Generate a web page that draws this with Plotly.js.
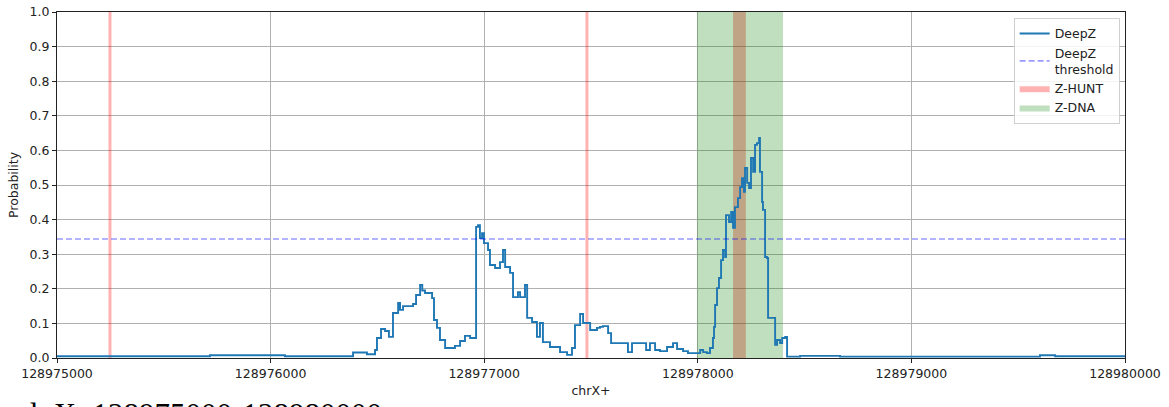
<!DOCTYPE html>
<html>
<head>
<meta charset="utf-8">
<script src="https://cdn.plot.ly/plotly-3.0.1.min.js"></script>
<style>html,body{margin:0;padding:0;background:#fff;}#chart{width:1169px;height:407px;}</style>
</head>
<body>
<div id="chart"></div>
<script>
// ---- data ----
const START = 128975000;
const xTicks = [128975000, 128976000, 128977000, 128978000, 128979000, 128980000];
const xTickText = ['128975000', '128976000', '128977000', '128978000', '128979000', '128980000'];
const yTicks = [0, 0.1, 0.2, 0.3, 0.4, 0.5, 0.6, 0.7, 0.8, 0.9, 1.0];

// DeepZ probability (offset from START, probability)
const deepzOffset = [0, 716, 1067, 1386, 1451, 1489, 1498, 1517, 1536, 1554, 1573, 1597, 1606, 1620, 1667, 1681, 1700, 1710, 1723, 1756, 1765, 1779, 1793, 1817, 1863, 1887, 1910, 1934, 1962, 1971, 1980, 1990, 1999, 2018, 2027, 2051, 2074, 2088, 2098, 2121, 2135, 2158, 2168, 2191, 2201, 2224, 2247, 2261, 2275, 2308, 2355, 2388, 2411, 2425, 2449, 2463, 2496, 2528, 2542, 2556, 2580, 2594, 2636, 2673, 2692, 2730, 2758, 2776, 2800, 2823, 2856, 2884, 2903, 2931, 2954, 2996, 3011, 3025, 3043, 3057, 3071, 3076, 3081, 3090, 3099, 3109, 3118, 3128, 3132, 3146, 3156, 3165, 3174, 3188, 3198, 3207, 3216, 3221, 3231, 3240, 3249, 3259, 3268, 3277, 3287, 3291, 3301, 3305, 3315, 3324, 3329, 3352, 3362, 3371, 3385, 3395, 3409, 3418, 3479, 3666, 4602, 4673, 5000];
const deepzProb = [0.005, 0.008, 0.005, 0.016, 0.011, 0.023, 0.058, 0.084, 0.078, 0.061, 0.13, 0.159, 0.139, 0.15, 0.156, 0.182, 0.211, 0.195, 0.188, 0.173, 0.11, 0.087, 0.052, 0.029, 0.035, 0.049, 0.064, 0.058, 0.379, 0.384, 0.347, 0.361, 0.332, 0.312, 0.269, 0.26, 0.277, 0.312, 0.263, 0.246, 0.176, 0.19, 0.176, 0.211, 0.116, 0.104, 0.061, 0.101, 0.046, 0.032, 0.017, 0.009, 0.029, 0.095, 0.127, 0.101, 0.081, 0.087, 0.09, 0.092, 0.072, 0.043, 0.043, 0.017, 0.043, 0.043, 0.023, 0.043, 0.023, 0.02, 0.032, 0.043, 0.026, 0.02, 0.014, 0.014, 0.023, 0.017, 0.014, 0.029, 0.058, 0.09, 0.153, 0.202, 0.231, 0.283, 0.312, 0.292, 0.413, 0.393, 0.422, 0.376, 0.436, 0.462, 0.494, 0.52, 0.48, 0.549, 0.506, 0.491, 0.578, 0.538, 0.616, 0.621, 0.636, 0.538, 0.451, 0.428, 0.292, 0.289, 0.116, 0.116, 0.038, 0.052, 0.043, 0.058, 0.061, 0.004, 0.006, 0.004, 0.008, 0.005, 0.005];

const threshold = 0.344;

// Regions
const zhuntStart = [128975241, 128977474, 128978165];
const zhuntEnd   = [128975255, 128977488, 128978225];
const zdnaStart  = [128977996];
const zdnaEnd    = [128978399];

// ---- build ----
function regionTrace(starts, ends) {
  const xs = [], ys = [];
  for (let i = 0; i < starts.length; i++) {
    xs.push(starts[i], starts[i], ends[i], ends[i], starts[i], null);
    ys.push(0, 1, 1, 0, 0, null);
  }
  return {x: xs, y: ys};
}
const zh = regionTrace(zhuntStart, zhuntEnd);
const zd = regionTrace(zdnaStart, zdnaEnd);

const FONT = 'DejaVu Sans, sans-serif';

const traces = [
  {x: zh.x, y: zh.y, type: 'scatter', mode: 'lines', fill: 'toself',
   fillcolor: 'rgba(255,0,0,0.3)', line: {width: 0}, name: 'Z-HUNT', legendrank: 3, hoverinfo: 'skip'},
  {x: zd.x, y: zd.y, type: 'scatter', mode: 'lines', fill: 'toself',
   fillcolor: 'rgba(0,128,0,0.25)', line: {width: 0}, name: 'Z-DNA', legendrank: 4, hoverinfo: 'skip'},
  {x: deepzOffset.map(d => START + d), y: deepzProb, type: 'scatter', mode: 'lines',
   line: {color: '#1f77b4', width: 1.9, shape: 'hv'}, name: 'DeepZ', legendrank: 1},
  {x: [xTicks[0], xTicks[xTicks.length - 1]], y: [threshold, threshold], type: 'scatter', mode: 'lines',
   line: {color: 'rgba(0,0,255,0.4)', width: 1.7, dash: '6px,3px'}, name: 'DeepZ<br>threshold', legendrank: 2}
];

const layout = {
  width: 1169, height: 407,
  margin: {l: 57, r: 44, t: 12, b: 49, pad: 0},
  paper_bgcolor: '#fff', plot_bgcolor: '#fff',
  font: {family: FONT, size: 12.5, color: '#222'},
  showlegend: true,
  legend: {
    x: 0.995, y: 0.983, xanchor: 'right', yanchor: 'top',
    bgcolor: 'rgba(255,255,255,0.85)', bordercolor: '#d0d0d0', borderwidth: 1,
    font: {family: FONT, size: 12.5, color: '#222'},
    itemwidth: 30, tracegroupgap: 0
  },
  xaxis: {
    range: [xTicks[0], xTicks[xTicks.length - 1]],
    tickvals: xTicks, ticktext: xTickText,
    ticks: 'outside', ticklen: 4, tickcolor: '#222', tickwidth: 1,
    showgrid: true, gridcolor: '#b0b0b0', gridwidth: 1,
    showline: true, linecolor: '#222', linewidth: 1, mirror: true,
    zeroline: false,
    title: {text: 'chrX+', font: {family: FONT, size: 12.5, color: '#222'}, standoff: 6},
    tickfont: {family: FONT, size: 12.5, color: '#222'}
  },
  yaxis: {
    range: [0, 1],
    tickvals: yTicks, tickformat: '.1f',
    ticks: 'outside', ticklen: 4, tickcolor: '#222', tickwidth: 1,
    showgrid: true, gridcolor: '#b0b0b0', gridwidth: 1,
    showline: true, linecolor: '#222', linewidth: 1, mirror: true,
    zeroline: false,
    title: {text: 'Probability', font: {family: FONT, size: 12.5, color: '#222'}, standoff: 8},
    tickfont: {family: FONT, size: 12.5, color: '#222'}
  },
  annotations: [{
    text: 'd: X: 128975000-128980000',
    xref: 'paper', yref: 'paper', x: -0.0346, y: -0.107,
    xanchor: 'left', yanchor: 'top', showarrow: false,
    font: {family: 'Liberation Serif, Times New Roman, serif', size: 31, color: '#000'}
  }]
};

Plotly.newPlot('chart', traces, layout, {displayModeBar: false, staticPlot: true});
</script>
</body>
</html>
